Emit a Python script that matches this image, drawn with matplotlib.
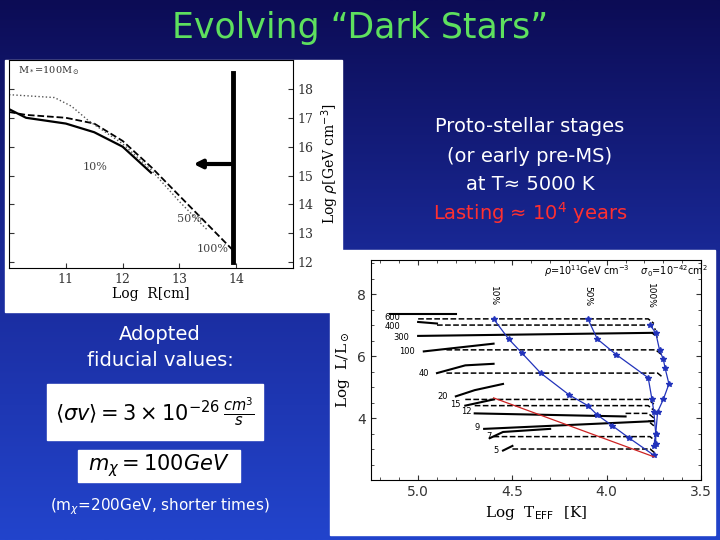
import numpy as np
import matplotlib
matplotlib.use("Agg")
import matplotlib.pyplot as plt
from matplotlib.colors import LinearSegmentedColormap

# ---- left panel data (Log R, Log rho) ----
solid_R = [10.0, 10.3, 11.0, 11.5, 12.0, 12.5]
solid_rho = [17.3, 17.0, 16.8, 16.5, 16.0, 15.1]
dash_R = [10.0, 10.3, 11.0, 11.5, 12.0, 12.5, 13.0, 13.5, 13.95]
dash_rho = [17.2, 17.1, 17.0, 16.8, 16.2, 15.3, 14.3, 13.3, 12.4]
dot_R = [10.0, 10.8, 11.1, 11.4, 12.0, 12.5, 13.0, 13.5]
dot_rho = [17.8, 17.7, 17.4, 16.9, 16.1, 15.2, 14.1, 13.1]

# ---- right panel data (Log Teff, Log L) ----
masses = ["600", "400", "300", "100", "40", "20", "15", "12", "9", "7", "5"]
label_T = [5.18, 5.18, 5.13, 5.10, 5.0, 4.90, 4.83, 4.77, 4.70, 4.64, 4.60]
label_L = [7.25, 6.95, 6.6, 6.15, 5.45, 4.7, 4.45, 4.2, 3.7, 3.4, 2.95]
solid_T = [[5.15, 4.80], [5.0, 4.9], [5.0, 3.75], [4.97, 4.6], [4.9, 4.75, 4.6],
           [4.8, 4.7, 4.55], [4.75, 4.6], [4.7, 3.9], [4.65, 3.75], [4.62, 4.55, 4.3], [4.55, 4.5]]
solid_L = [[7.35, 7.35], [7.1, 7.05], [6.65, 6.75], [6.15, 6.4], [5.45, 5.7, 5.75],
           [4.7, 4.9, 5.1], [4.4, 4.6], [4.15, 4.05], [3.65, 3.9], [3.35, 3.55, 3.65], [2.95, 3.1]]
dash_start_T = [5.0, 4.9, None, 4.85, 4.85, 4.75, 4.7, None, None, 4.6, 4.5]
dash_L = [7.2, 7.0, 6.75, 6.2, 5.45, 4.6, 4.4, 4.15, 3.9, 3.4, 3.0]
dash_end_T = [3.75, 3.74, 3.73, 3.71, 3.70, 3.75, 3.75, 3.75, 3.75, 3.74, 3.74]

b10_T = [4.6, 4.52, 4.45, 4.35, 4.2, 4.1, 4.05, 3.97, 3.88, 3.75]
b10_L = [7.2, 6.55, 6.1, 5.45, 4.75, 4.4, 4.1, 3.75, 3.35, 2.8]
b50_T = [4.1, 4.05, 3.95, 3.78, 3.76, 3.75, 3.74, 3.74]
b50_L = [7.2, 6.55, 6.05, 5.3, 4.6, 4.2, 3.5, 3.15]
b100_T = [3.77, 3.74, 3.72, 3.70, 3.69, 3.67, 3.70, 3.73, 3.74, 3.75]
b100_L = [7.0, 6.75, 6.2, 5.9, 5.6, 5.1, 4.6, 4.2, 3.5, 3.1]
red_T = [4.6, 3.75]
red_L = [4.65, 2.75]

W, H = 720, 540
fig = plt.figure(figsize=(7.2, 5.4), dpi=100)

bg = fig.add_axes([0, 0, 1, 1])
grad = np.linspace(0, 1, 256)[:, None]
cm = LinearSegmentedColormap.from_list("bg", ["#0c0c55", "#1a2a9a", "#2244cc"])
bg.imshow(grad, aspect="auto", cmap=cm, extent=[0, 1, 0, 1], origin="upper")
bg.axis("off")

def fx(px): return px / W
def fy(py): return 1 - py / H

def patch(x0, y0, x1, y1):
    bg.add_patch(plt.Rectangle((fx(x0), fy(y1)), fx(x1) - fx(x0), fy(y0) - fy(y1),
                               transform=bg.transAxes, color="white", zorder=2))

patch(5, 60, 342, 312)
patch(330, 250, 715, 535)
patch(47, 384, 263, 440)
patch(78, 450, 240, 482)

fig.text(0.5, fy(28), "Evolving \u201cDark Stars\u201d", color="#5ee05e", fontsize=25,
         ha="center", va="center")
for i, t in enumerate(["Proto-stellar stages", "(or early pre-MS)", "at T\u2248 5000 K"]):
    fig.text(fx(530), fy(127 + 29 * i), t, color="white", fontsize=14, ha="center", va="center")
fig.text(fx(530), fy(213), "Lasting \u2248 10$^4$ years", color="#ff3030", fontsize=14,
         ha="center", va="center")
fig.text(fx(160), fy(335), "Adopted", color="white", fontsize=14, ha="center", va="center")
fig.text(fx(160), fy(361), "fiducial values:", color="white", fontsize=14, ha="center", va="center")
fig.text(fx(155), fy(412), r"$\langle\sigma v\rangle = 3\times10^{-26}\,\frac{cm^3}{s}$",
         color="black", fontsize=15, ha="center", va="center")
fig.text(fx(159), fy(466), r"$m_\chi = 100GeV$", color="black", fontsize=15, ha="center", va="center")
fig.text(fx(160), fy(507), r"(m$_\chi$=200GeV, shorter times)", color="white", fontsize=11,
         ha="center", va="center")

# left axes
ax1 = fig.add_axes([fx(9), fy(268), fx(293) - fx(9), fy(60) - fy(268)])
ax1.plot(solid_R, solid_rho, "k-", lw=1.6)
ax1.plot(dash_R, dash_rho, "k--", lw=1.3)
ax1.plot(dot_R, dot_rho, ":", color="#555", lw=1.0)
ax1.plot([13.95, 13.95], [12.0, 18.55], "k-", lw=3.5)
ax1.annotate("", xy=(13.2, 15.4), xytext=(13.95, 15.4),
             arrowprops=dict(arrowstyle="-|>", lw=3, color="k", mutation_scale=12))
ax1.text(11.3, 15.2, "10%", fontsize=8, color="#444", family="serif")
ax1.text(12.95, 13.4, "50%", fontsize=8, color="#444", family="serif")
ax1.text(13.3, 12.35, "100%", fontsize=8, color="#444", family="serif")
ax1.text(10.15, 18.55, r"M$_*$=100M$_\odot$", fontsize=7, color="#333", family="serif")
ax1.set_xlim(10, 15)
ax1.set_ylim(11.8, 19)
ax1.set_xticks([11, 12, 13, 14])
ax1.set_yticks(range(12, 19))
ax1.yaxis.tick_right()
ax1.yaxis.set_label_position("right")
ax1.tick_params(direction="in", labelsize=9, colors="#333", left=True, top=False)
ax1.set_xlabel("Log  R[cm]", fontsize=10, family="serif", labelpad=1)
ax1.set_ylabel(r"Log $\rho$[GeV cm$^{-3}$]", fontsize=10, family="serif")
for l in ax1.get_xticklabels() + ax1.get_yticklabels():
    l.set_family("serif")

# right axes
ax2 = fig.add_axes([fx(371), fy(480), fx(701) - fx(371), fy(260) - fy(480)])
for i, m in enumerate(masses):
    ax2.plot(solid_T[i], solid_L[i], "k-", lw=1.5)
    st = dash_start_T[i] if dash_start_T[i] is not None else solid_T[i][-1]
    ax2.plot([st, dash_end_T[i] + 0.03, dash_end_T[i]], [dash_L[i], dash_L[i], dash_L[i] - 0.15],
             "k--", lw=1.1)
    ax2.text(label_T[i], label_L[i], m, fontsize=6, ha="left", va="center")
for T, L in [(b10_T, b10_L), (b50_T, b50_L), (b100_T, b100_L)]:
    ax2.plot(T, L, "-", color="#2233bb", lw=0.9, marker="*", ms=4)
ax2.plot(red_T, red_L, "-", color="#cc2222", lw=0.9)
for T, s in [(4.6, "10%"), (4.1, "50%"), (3.77, "100%")]:
    ax2.text(T, 7.95, s, rotation=270, fontsize=6.5, ha="center", va="center")
ax2.text(4.33, 8.75, r"$\rho$=10$^{11}$GeV cm$^{-3}$    $\sigma_0$=10$^{-42}$cm$^2$",
         fontsize=7, ha="left", va="center")
ax2.set_xlim(5.25, 3.5)
ax2.set_ylim(2.0, 9.1)
ax2.set_xticks([5.0, 4.5, 4.0, 3.5])
ax2.set_xticklabels(["5.0", "4.5", "4.0", "3.5"])
ax2.set_yticks([4, 6, 8])
ax2.set_xticks(np.arange(3.5, 5.25, 0.1), minor=True)
ax2.set_yticks(np.arange(2.5, 9.1, 0.5), minor=True)
ax2.tick_params(which="both", direction="in", top=True, right=True, labelsize=10, colors="#333")
ax2.set_xlabel(r"Log  T$_{\rm EFF}$  [K]", fontsize=11, family="serif")
ax2.set_ylabel(r"Log  L/L$_\odot$", fontsize=11, family="serif")

fig.savefig("out.png", dpi=100)
